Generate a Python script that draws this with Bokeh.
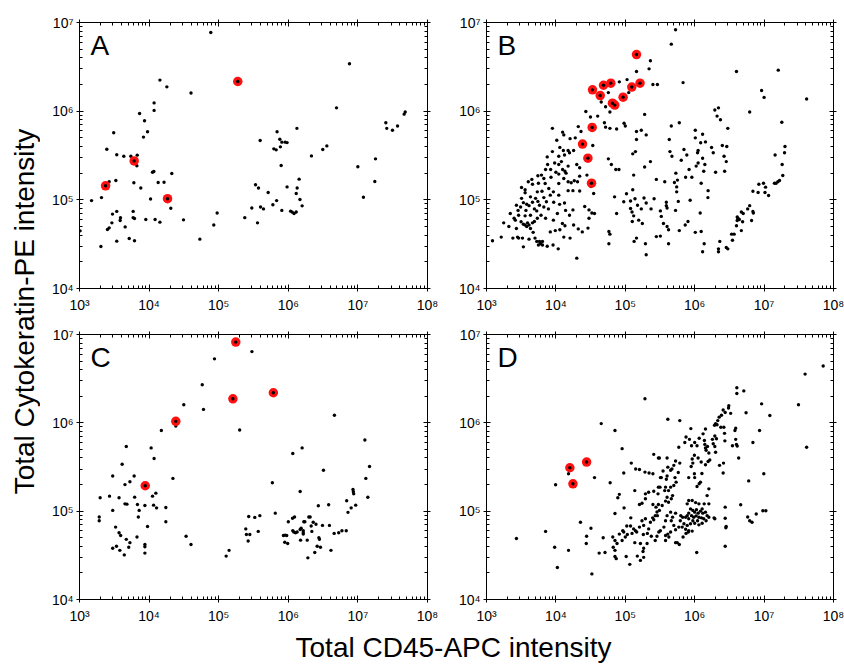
from bokeh.plotting import figure
from bokeh.models import (Range1d, LogAxis, FixedTicker, CustomJSTickFormatter,
                          Label, ColumnDataSource)
from bokeh.layouts import row, column
from bokeh.embed import file_html
from bokeh.resources import INLINE

FONT = "Liberation Sans"

# ---------------- data (CD45-APC, Cytokeratin-PE) ----------------
a_black = [
    (7.7e4, 7.7e6), (1.43e4, 2.24e6), (1.8e4, 1.88e6), (4.0e4, 1.6e6), (1.18e4, 1.24e6),
    (1.18e4, 1.02e6), (7.3e3, 9.4e5), (8.6e3, 7.8e5), (9.5e3, 5.85e5), (3.1e3, 5.7e5),
    (8.3e3, 5.1e5), (2.47e3, 3.72e5), (3.43e3, 3.22e5), (4.33e3, 3.1e5), (5.47e3, 3.1e5),
    (6.75e3, 3.19e5), (6.67e3, 2.42e5), (1.17e4, 2.09e5), (1.12e4, 2.05e5), (2.12e4, 1.98e5),
    (3.33e3, 1.65e5), (2.67e3, 1.6e5), (6.04e3, 1.56e5), (1.35e4, 1.57e5), (1.64e4, 1.58e5),
    (7.6e3, 1.36e5), (1.49e3, 9.8e4), (2.07e3, 1.06e5), (1.05e4, 1.02e5), (2.05e4, 8.05e4),
    (2.98e3, 6.9e4), (3.43e3, 7.4e4), (3.88e3, 6.27e4), (3.84e3, 5.85e4), (5.9e3, 7.4e4),
    (5.9e3, 6.3e4), (6.17e3, 6.15e4), (8.97e3, 6.0e4), (1.22e4, 6.0e4), (1.43e4, 5.6e4),
    (2.92e3, 5.5e4), (4.53e3, 4.95e4), (2.67e3, 4.83e4), (2.52e3, 4.62e4), (1.02e3, 4.47e4),
    (3.12e4, 5.95e4), (9.5e4, 7.1e4), (8.5e4, 5.2e4), (2.37e5, 6.3e4), (2.99e5, 8.1e4),
    (5.36e4, 3.6e4), (5.18e3, 3.66e4), (6.17e3, 3.45e4), (3.43e3, 3.42e4), (2.03e3, 2.98e4),
    (7.57e6, 3.42e6), (4.93e6, 1.09e6), (4.78e7, 9.8e5), (4.62e7, 9.25e5), (2.52e7, 7.4e5),
    (2.6e7, 6.4e5), (3.14e7, 6.1e5), (3.71e7, 6.8e5), (6.9e5, 5.85e5), (1.33e6, 6.4e5),
    (3.94e5, 4.67e5), (7.55e5, 4.83e5), (8.07e5, 4.47e5), (9.0e5, 4.47e5), (9.6e5, 4.42e5),
    (6.2e5, 3.76e5), (6.7e5, 3.66e5), (7.7e5, 3.96e5), (2.15e6, 3.13e5), (3.13e6, 3.7e5),
    (3.58e6, 4.06e5), (7.9e5, 2.44e5), (9.98e6, 2.36e5), (1.79e7, 2.9e5), (1.75e7, 1.61e5),
    (1.2e7, 1.07e5), (1.43e6, 1.71e5), (3.38e5, 1.48e5), (3.73e5, 1.36e5), (9.6e5, 1.4e5),
    (5.14e5, 1.21e5), (1.34e6, 1.36e5), (1.3e6, 1.18e5), (1.47e6, 1.01e5), (1.58e6, 8.55e4),
    (6.8e5, 9.8e4), (6.0e5, 8.8e4), (8.07e5, 7.6e4), (1.08e6, 7.45e4), (1.14e6, 7.26e4),
    (1.21e6, 7.0e4), (1.3e6, 7.3e4), (3.99e5, 8.3e4), (4.4e5, 7.9e4), (3.61e5, 5.5e4),
]
a_red = [(1.88e5, 2.16e6), (6.1e3, 2.75e5), (2.37e3, 1.44e5), (1.84e4, 1.03e5)]

b_black = [
    (2.3e5, 3.7e6), (2.2e5, 3.0e6), (1.45e5, 2.8e6), (1.06e5, 2.27e6), (8.2e4, 2.14e6),
    (2.5e5, 2.0e6), (2.9e5, 2.0e6), (5.7e4, 1.62e6), (1.12e5, 1.62e6), (4.5e4, 1.27e6),
    (5.2e4, 1.12e6), (6.0e4, 9.8e5), (2.7e4, 9.9e5), (3.15e4, 8.6e5), (4.0e4, 8.8e5),
    (5.0e4, 7.4e5), (5.2e4, 6.6e5), (6.0e4, 6.4e5), (9.6e4, 7.3e5), (1.0e5, 6.8e5),
    (1.9e5, 9.2e5), (7.5e4, 6.3e5), (8.9e3, 6.4e5), (2.1e4, 6.7e5), (2.3e4, 5.9e5),
    (1.7e5, 6.1e5), (2.0e5, 5.4e5), (1.45e5, 5.9e5), (1.45e5, 4.8e5), (1.25e4, 5.8e5),
    (1.3e4, 5.4e5), (1.6e4, 4.9e5), (1.03e4, 4.7e5), (1.14e4, 3.9e5), (1.9e4, 5.0e5),
    (3.4e4, 4.1e5), (1.28e5, 3.3e5), (1.4e5, 3.5e5), (5.7e4, 2.9e5), (6.3e4, 2.5e5),
    (7.3e4, 2.2e5), (8.1e4, 2.2e5), (1.9e5, 2.35e5), (2.3e5, 2.7e5), (1.32e5, 1.9e5),
    (2.8e5, 1.7e5), (8.9e3, 3.5e5), (7.5e3, 3.05e5), (1.28e4, 3.6e5), (1.5e4, 3.6e5),
    (1.57e4, 3.4e5), (1.33e4, 3.2e5), (2.0e4, 2.5e5), (2.2e4, 2.3e5), (1.2e4, 2.7e5),
    (1.1e4, 2.5e5), (7.6e3, 2.5e5), (7.1e3, 2.2e5), (9.6e3, 2.6e5), (1.25e4, 2.2e5),
    (1.35e4, 2.1e5), (1.4e4, 2.0e5), (1.0e4, 2.05e5), (1.1e4, 1.95e5), (6.2e3, 1.9e5),
    (5.5e3, 1.87e5), (8.5e3, 1.8e5), (6.7e3, 1.74e5), (4.5e3, 1.7e5), (4.0e3, 1.6e5),
    (3.2e3, 1.38e5), (3.6e3, 1.3e5), (3.6e3, 1.2e5), (4.6e3, 1.5e5), (5.6e3, 1.54e5),
    (7.0e3, 1.53e5), (1.3e4, 1.74e5), (1.5e4, 1.6e5), (1.66e4, 1.56e5), (1.84e4, 1.64e5),
    (2.05e4, 1.6e5), (2.2e4, 1.85e5), (2.8e4, 1.9e5), (1.1e4, 1.53e5), (7.9e3, 1.34e5),
    (9.2e3, 1.23e5), (1.1e4, 1.13e5), (6.3e3, 1.25e5), (5.4e3, 1.23e5), (1.5e4, 1.27e5),
    (1.76e4, 1.27e5), (2.2e4, 1.26e5), (3.5e4, 1.18e5), (3.2e4, 1.41e5), (7.0e4, 1.08e5),
    (1.04e5, 1.17e5), (1.28e5, 1.3e5), (1.38e5, 1.03e5), (1.86e5, 1.05e5), (2.0e5, 9.2e4),
    (2.6e5, 1.03e5), (9.5e4, 9.5e4), (1.19e5, 9.7e4), (1.5e5, 8.7e4), (1.7e5, 7.9e4),
    (2.35e5, 7.9e4), (3.2e5, 7.5e4), (1.19e5, 8.0e4), (1.25e5, 7.3e4), (1.32e5, 6.6e4),
    (7.5e4, 7.0e4), (1.26e5, 5.7e4), (1.56e5, 5.9e4), (3.3e5, 6.5e4), (1.76e5, 5.4e4),
    (3.0e4, 7.7e4), (3.3e4, 7.1e4), (3.6e4, 7.0e4), (3.0e4, 6.2e4), (2.6e4, 8.4e4),
    (1.33e4, 9.2e4), (1.13e4, 8.9e4), (1.38e4, 7.6e4), (1.76e4, 7.7e4), (9.3e3, 9.4e4),
    (7.3e3, 9.5e4), (6.7e3, 8.3e4), (5.5e3, 9.6e4), (5.8e3, 8.7e4), (4.6e3, 9.4e4),
    (4.1e3, 8.6e4), (3.8e3, 8.9e4), (3.4e3, 9.3e4), (2.7e3, 8.7e4), (3.1e3, 8.3e4),
    (2.85e3, 7.6e4), (3.7e3, 7.6e4), (4.9e3, 7.9e4), (5.3e3, 7.5e4), (7.8e3, 7.9e4),
    (6.1e3, 6.7e4), (4.3e3, 6.7e4), (3.6e3, 6.6e4), (2.5e3, 6.2e4), (2.6e3, 5.9e4),
    (1.77e3, 5.5e4), (3.15e3, 5.65e4), (3.4e3, 5.3e4), (3.9e3, 5.5e4), (4.1e3, 5.2e4),
    (4.6e3, 5.5e4), (4.9e3, 5.7e4), (3.6e3, 5.2e4), (3.8e3, 5.0e4), (4.3e3, 4.75e4),
    (4.7e3, 4.3e4), (2.7e3, 4.75e4), (9.2e3, 5.9e4), (1.14e4, 4.6e4), (9.8e3, 4.5e4),
    (8.3e3, 4.35e4), (1.35e4, 5.1e4), (1.3e4, 3.8e4), (1.6e4, 3.7e4), (2.1e4, 4.7e4),
    (2.4e4, 4.35e4), (2.9e4, 4.8e4), (2.4e3, 3.7e4), (2.8e3, 3.8e4), (2.9e3, 3.7e4),
    (3.3e3, 3.7e4), (4.1e3, 3.6e4), (5.0e3, 3.7e4), (5.3e3, 3.4e4), (5.8e3, 3.4e4),
    (6.0e3, 3.2e4), (6.4e3, 3.1e4), (5.6e3, 3.1e4), (6.4e3, 3.4e4), (3.4e3, 2.95e4),
    (7.5e3, 3.0e4), (9.1e3, 3.1e4), (1.08e4, 2.8e4), (1.63e3, 3.8e4), (1.22e3, 3.45e4),
    (2.0e4, 2.2e4), (5.8e4, 3.2e4), (5.8e4, 4.4e4), (6.0e4, 4.1e4), (1.45e5, 3.7e4),
    (1.34e5, 3.4e4), (1.95e5, 3.2e4), (2.0e5, 2.4e4), (2.8e5, 3.85e4), (3.2e5, 3.9e4),
    (3.2e3, 1.04e5), (4.3e3, 1.08e5), (5.1e3, 1.04e5), (6.7e3, 1.06e5), (8.3e3, 1.13e5),
    (7.1e3, 6.2e4), (5.4e3, 6.2e4), (2.9e3, 6.7e4), (2.2e3, 7.0e4), (2.1e3, 5.0e4),
    (1.57e4, 6.7e4), (1.05e4, 7.0e4), (1.24e4, 5.4e4), (1.8e4, 5.2e4), (8.4e3, 2.2e5),
    (1.1e4, 3.1e5), (1.8e4, 3.6e5), (1.5e4, 2.4e5),
    (5.3e5, 8.3e6), (4.6e5, 5.7e6), (6.8e5, 2.1e6), (4.0e6, 2.8e6), (1.6e7, 2.9e6),
    (9.2e6, 1.71e6), (1.0e7, 1.43e6), (4.1e7, 1.37e6), (1.95e6, 1.03e6), (2.2e6, 1.09e6),
    (2.1e6, 8.8e5), (2.35e6, 8.0e5), (6.2e6, 9.8e5), (1.8e7, 7.5e5), (3.0e6, 6.4e5),
    (4.6e5, 6.8e5), (6.0e5, 7.4e5), (4.3e5, 4.8e5), (1.02e6, 6.1e5), (1.3e6, 5.5e5),
    (1.02e6, 5.0e5), (1.22e6, 4.4e5), (1.43e6, 4.5e5), (4.4e5, 3.5e5), (4.7e5, 3.1e5),
    (7.0e5, 3.7e5), (7.7e5, 3.2e5), (6.4e5, 2.8e5), (1.12e6, 3.6e5), (1.1e6, 3.4e5),
    (1.3e6, 2.95e5), (1.12e6, 2.6e5), (1.4e6, 2.5e5), (1.05e6, 2.4e5), (1.35e6, 2.1e5),
    (1.75e6, 3.9e5), (1.85e6, 3.4e5), (2.5e6, 4.1e5), (2.9e6, 4.0e5), (2.65e6, 3.1e5),
    (2.85e6, 2.7e5), (2.7e6, 2.1e5), (2.0e6, 2.05e5), (8.3e5, 2.2e5), (7.4e5, 1.8e5),
    (9.1e5, 1.8e5), (5.35e5, 2.0e5), (5.65e5, 1.67e5), (5.1e5, 1.57e5), (5.5e5, 1.4e5),
    (5.5e5, 1.23e5), (5.8e5, 9.6e4), (3.9e5, 9.4e4), (3.9e5, 8.6e4), (4.0e5, 8.1e4),
    (5.3e5, 7.6e4), (8.6e5, 9.9e4), (1.24e6, 1.54e5), (1.56e6, 1.27e5), (1.55e6, 1.06e5),
    (1.2e6, 7.1e4), (3.7e5, 1.6e5), (3.55e5, 5.4e4), (4.0e5, 5.0e4), (4.2e5, 4.6e4),
    (4.2e5, 3.2e4), (6.0e5, 4.5e4), (7.3e5, 5.2e4), (8.0e5, 5.7e4), (1.02e6, 4.3e4),
    (1.24e6, 4.4e4), (1.37e6, 3.2e4), (1.3e6, 2.6e4), (2.3e6, 3.4e4), (2.2e6, 2.8e4),
    (2.2e6, 2.6e4), (2.85e6, 2.9e4), (3.0e6, 2.8e4), (3.5e6, 3.5e4), (3.4e6, 4.1e4),
    (3.7e6, 4.1e4), (4.0e6, 5.1e4), (4.7e6, 4.5e4), (4.1e6, 6.4e4), (4.2e6, 6.2e4),
    (4.4e6, 6.0e4), (4.1e6, 5.85e4), (4.9e6, 5.65e4), (4.7e6, 7.3e4), (5.0e6, 7.0e4),
    (5.8e6, 7.9e4), (6.2e6, 8.6e4), (6.9e6, 7.4e4), (6.6e6, 5.85e4), (7.0e6, 7.1e4),
    (6.9e6, 1.25e5), (8.4e6, 1.5e5), (9.8e6, 1.54e5), (8.2e6, 1.21e5), (1.03e7, 1.21e5),
    (1.05e7, 1.39e5), (1.16e7, 1.12e5), (1.41e7, 1.54e5), (1.49e7, 1.54e5), (1.58e7, 1.6e5),
    (1.67e7, 1.65e5), (1.86e7, 1.88e5), (1.82e7, 2.5e5), (1.44e7, 3.2e5), (1.97e7, 3.4e5),
    (2.0e7, 4.0e5),
]
b_red = [
    (1.45e5, 4.35e6), (3.37e4, 1.74e6), (4.85e4, 1.96e6), (6.18e4, 2.07e6), (4.35e4, 1.5e6),
    (6.53e4, 1.23e6), (7.06e4, 1.17e6), (9.3e4, 1.44e6), (1.24e5, 1.87e6), (1.63e5, 2.07e6),
    (3.33e4, 6.55e5), (2.42e4, 4.25e5), (2.89e4, 2.95e5), (3.26e4, 1.54e5),
]

c_black = [
    (8.7e4, 5.3e6), (3.0e5, 6.4e6), (5.8e4, 2.7e6), (3.15e4, 1.6e6), (6.05e4, 1.42e6),
    (2.42e4, 9.2e5), (1.5e4, 8.2e5), (2.0e5, 8.3e5), (4.7e3, 5.4e5), (1.07e4, 5.2e5),
    (1.18e4, 3.95e5), (4.1e3, 3.4e5), (2.2e4, 2.35e5), (3.0e3, 2.5e5), (6.1e3, 2.5e5),
    (5.3e3, 2.15e5), (4.5e3, 2.0e5), (1.98e3, 1.42e5), (2.7e3, 1.48e5), (3.7e3, 1.42e5),
    (6.2e3, 1.44e5), (1.12e4, 1.48e5), (1.25e4, 1.6e5), (4.5e3, 1.21e5), (4.8e3, 1.2e5),
    (6.8e3, 1.19e5), (8.7e3, 1.16e5), (1.16e4, 1.17e5), (1.28e4, 1.09e5), (1.74e4, 1.1e5),
    (3.0e3, 1.02e5), (7.2e3, 1.02e5), (7.0e3, 8.6e4), (1.92e3, 8.6e4), (1.92e3, 7.8e4),
    (1.74e4, 7.6e4), (9.5e3, 6.7e4), (3.3e3, 6.6e4), (3.7e3, 5.7e4), (3.9e3, 5.3e4),
    (6.7e3, 5.1e4), (4.7e3, 4.8e4), (5.3e3, 4.4e4), (5.1e3, 3.9e4), (3.0e3, 3.8e4),
    (3.4e3, 4.0e4), (3.8e3, 3.6e4), (4.4e3, 3.2e4), (8.7e3, 4.2e4), (8.7e3, 3.95e4),
    (8.7e3, 3.35e4), (3.4e4, 5.2e4), (4.0e4, 4.2e4), (1.41e5, 3.6e4), (1.28e5, 3.1e4),
    (2.7e5, 8.7e4), (3.3e5, 8.5e4), (2.45e5, 6.3e4), (2.8e5, 5.45e4), (2.5e5, 5.45e4),
    (2.65e5, 4.6e4),
    (1.16e6, 4.5e5), (1.58e6, 5.2e5), (4.6e6, 1.22e6), (1.26e7, 6.4e5), (1.47e7, 3.2e5),
    (1.3e7, 2.35e5), (1.39e7, 1.44e5), (3.2e6, 2.9e5), (5.9e5, 2.1e5), (1.48e6, 1.67e5),
    (6.5e5, 9.5e4), (2.7e6, 1.15e5), (3.8e6, 1.18e5), (6.9e6, 1.31e5), (7.2e6, 9.7e4),
    (8.0e6, 1.09e5), (8.5e6, 1.76e5), (8.6e6, 1.66e5), (8.7e6, 1.57e5), (9.3e6, 1.17e5),
    (3.9e5, 8.9e4), (3.7e5, 5.9e4), (1.0e6, 7.6e4), (1.15e6, 8.3e4), (1.23e6, 8.6e4),
    (1.67e6, 7.6e4), (1.73e6, 7.6e4), (1.97e6, 8.6e4), (2.06e6, 8.6e4), (2.28e6, 7.5e4),
    (2.5e6, 7.1e4), (3.1e6, 6.9e4), (3.9e6, 6.9e4), (1.16e6, 6.0e4), (1.2e6, 5.8e4),
    (1.27e6, 5.7e4), (1.34e6, 5.8e4), (1.48e6, 6.2e4), (1.53e6, 6.4e4), (1.64e6, 5.7e4),
    (1.64e6, 6.0e4), (1.64e6, 5.5e4), (2.13e6, 6.8e4), (2.18e6, 5.9e4), (8.5e5, 5.3e4),
    (9.0e5, 5.35e4), (9.5e5, 5.3e4), (8.9e5, 4.45e4), (9.8e5, 4.3e4), (1.5e6, 4.7e4),
    (1.87e6, 4.7e4), (2.75e6, 5.0e4), (2.8e6, 4.8e4), (2.6e6, 4.0e4), (2.9e6, 3.9e4),
    (1.91e6, 2.96e4), (2.4e6, 3.4e4), (4.1e6, 3.6e4), (4.56e6, 5.6e4), (5.3e6, 5.7e4),
    (5.9e6, 6.0e4), (6.8e6, 6.0e4),
]
c_red = [(1.76e5, 8.2e6), (1.6e5, 1.87e6), (2.42e4, 1.04e6), (8.8e3, 1.94e5), (6.1e5, 2.19e6)]

d_black = [
    (1.92e5, 1.87e6), (4.5e4, 9.8e5), (7.1e4, 8.2e5), (9.0e4, 5.1e5), (2.57e5, 4.4e5),
    (3.0e5, 4.0e5), (1.22e5, 3.5e5), (1.41e5, 3.0e5), (1.6e5, 2.96e5), (1.92e5, 2.77e5),
    (2.2e5, 2.7e5), (2.5e5, 2.65e5), (9.5e4, 2.7e5), (3.6e4, 2.4e5), (1.52e4, 2.65e5),
    (9.9e3, 1.99e5), (6.05e4, 2.1e5), (1.37e5, 1.71e5), (8.2e4, 1.55e5), (7.8e4, 1.42e5),
    (9.6e4, 1.09e5), (7.1e4, 9.4e4), (1.95e5, 1.57e5), (2.17e5, 1.64e5), (2.57e5, 1.68e5),
    (2.96e5, 1.57e5), (3.2e5, 2.4e5), (3.16e5, 1.87e5), (1.74e5, 1.23e5), (1.6e5, 1.19e5),
    (1.95e5, 1.38e5), (2.5e5, 1.19e5), (2.77e5, 1.11e5), (2.86e5, 9.8e4), (2.7e5, 8.9e4),
    (2.48e5, 8.4e4), (1.2e5, 8.4e4), (1.05e5, 6.8e4), (1.19e5, 6.8e4), (9.2e4, 6.0e4),
    (9.5e4, 5.8e4), (8.2e4, 5.5e4), (1.32e5, 6.3e4), (1.4e5, 6.0e4), (1.6e5, 6.6e4),
    (1.84e5, 6.9e4), (2.17e5, 6.3e4), (1.74e5, 7.8e4), (1.95e5, 8.2e4), (2.3e5, 7.5e4),
    (2.57e5, 8.0e4), (1.07e5, 5.45e4), (1.25e5, 5.6e4), (1.46e5, 5.8e4), (1.82e5, 5.45e4),
    (2.08e5, 5.6e4), (2.37e5, 5.2e4), (2.7e5, 4.65e4), (2.86e5, 5.2e4), (1.37e5, 4.4e4),
    (1.65e5, 4.3e4), (2.06e5, 4.3e4), (6.6e4, 5.1e4), (7.1e4, 4.65e4), (7.6e4, 4.3e4),
    (9.0e4, 4.65e4), (1.0e5, 5.1e4), (6.7e4, 3.9e4), (7.1e4, 3.6e4), (7.4e4, 2.9e4),
    (7.1e4, 3.07e4), (1.03e5, 3.07e4), (1.16e5, 2.5e4), (1.49e5, 3.1e4), (1.65e5, 2.77e4),
    (1.84e5, 3.0e4), (1.8e5, 3.5e4), (1.84e5, 3.8e4), (4.8e4, 5.0e4), (4.2e4, 3.35e4),
    (5.1e4, 3.4e4), (3.2e4, 6.4e4), (2.77e4, 5.2e4), (2.74e4, 4.3e4), (2.26e4, 7.5e4),
    (7.1e3, 5.9e4), (9.6e3, 3.9e4), (1.05e4, 2.3e4), (1.52e4, 3.6e4), (2.7e3, 4.9e4),
    (3.3e4, 1.95e4),
    (7.1e7, 4.4e6), (3.9e7, 3.56e6), (3.13e7, 1.6e6), (4.1e7, 5.3e5), (1.21e7, 1.21e6),
    (9.2e6, 1.64e6), (8.6e6, 8.2e5), (6.9e6, 6.0e5), (9.9e6, 2.65e5), (6.0e6, 2.2e5),
    (4.6e6, 1.18e5), (4.05e6, 2.5e6), (4.05e6, 2.15e6), (5.1e6, 2.3e6), (5.5e6, 1.3e6),
    (3.1e6, 1.56e6), (3.07e6, 1.47e6), (3.3e6, 1.28e6), (2.75e6, 1.31e6), (2.57e6, 1.4e6),
    (2.43e6, 1.22e6), (2.25e6, 1.16e6), (2.15e6, 1.06e6), (2.0e6, 9.8e5), (1.93e6, 9.4e5),
    (2.1e6, 9.5e5), (2.38e6, 8.9e5), (2.63e6, 8.9e5), (2.69e6, 7.6e5), (2.72e6, 6.25e5),
    (3.9e6, 8.7e5), (3.8e6, 8.2e5), (3.9e6, 6.5e5), (4.0e6, 5.7e5), (3.5e6, 5.5e5),
    (4.1e6, 5.45e5), (4.3e6, 4.0e5), (2.28e6, 3.3e5), (2.6e6, 3.5e5), (2.57e6, 2.7e5),
    (2.75e6, 1.11e5), (2.75e6, 8.3e4), (2.84e6, 6.7e4), (2.81e6, 6.5e4), (2.75e6, 4.0e4),
    (5.8e6, 8.6e4), (6.2e6, 7.8e4), (6.7e6, 7.5e4), (7.7e6, 9.3e4), (9.6e6, 1.01e5),
    (1.06e7, 1.01e5), (4.1e5, 1.1e6), (6.1e5, 1.06e6), (8.8e5, 8.6e5), (1.43e6, 8.5e5),
    (1.32e6, 7.5e5), (1.16e6, 6.7e5), (1.08e6, 5.5e5), (1.0e6, 6.0e5), (9.0e5, 5.5e5),
    (8.4e5, 6.5e5), (7.5e5, 6.9e5), (7.2e5, 6.0e5), (1.38e6, 6.3e5), (1.4e6, 5.7e5),
    (1.43e6, 5.2e5), (1.46e6, 4.9e5), (1.6e6, 4.55e5), (1.53e6, 5.4e5), (1.8e6, 6.5e5),
    (1.95e6, 7.1e5), (1.85e6, 5.8e5), (2.06e6, 6.6e5), (2.0e6, 4.65e5), (1.95e6, 5.4e5),
    (1.65e6, 3.8e5), (1.56e6, 3.65e5), (1.43e6, 3.35e5), (1.24e6, 3.6e5), (1.12e6, 4.0e5),
    (9.9e5, 4.3e5), (9.2e5, 3.9e5), (9.4e5, 3.5e5), (8.9e5, 3.2e5), (5.9e5, 5.3e5),
    (6.1e5, 3.5e5), (5.3e5, 3.7e5), (5.0e5, 3.3e5), (4.7e5, 3.0e5), (5.8e5, 2.74e5),
    (4.5e5, 2.9e5), (4.1e5, 3.15e5), (4.0e5, 2.5e5), (3.9e5, 2.3e5), (3.5e5, 2.85e5),
    (3.1e5, 4.0e5), (3.3e5, 2.4e5), (3.0e5, 1.87e5), (4.0e5, 4.0e5), (8.2e5, 2.4e5),
    (9.9e5, 2.65e5), (1.0e6, 2.4e5), (1.27e6, 2.67e5), (1.16e6, 2.04e5), (1.08e6, 1.9e5),
    (1.21e6, 2.13e5), (5.2e5, 2.4e5), (5.4e5, 2.13e5), (5.0e5, 1.95e5), (4.5e5, 1.87e5),
    (4.2e5, 1.71e5), (3.8e5, 1.87e5), (3.7e5, 1.71e5), (4.0e5, 1.44e5), (4.6e5, 1.38e5),
    (4.8e5, 1.5e5), (4.2e5, 1.26e5), (3.8e5, 1.3e5), (3.4e5, 1.16e5), (3.0e5, 1.19e5),
    (3.1e5, 1.02e5), (2.9e5, 8.9e4), (1.6e6, 1.79e5), (1.51e6, 1.5e5), (1.6e6, 1.21e5),
    (1.37e6, 1.21e5), (1.28e6, 1.06e5), (1.15e6, 1.21e5), (1.03e6, 1.25e5), (9.2e5, 1.32e5),
    (8.2e5, 1.32e5), (7.8e5, 1.21e5),
    (8.7e5, 1.06e5), (9.4e5, 1.02e5), (1.0e6, 9.75e4), (1.06e6, 1.04e5), (1.12e6, 9.5e4),
    (1.21e6, 1.0e5), (1.31e6, 9.5e4), (1.43e6, 9.75e4), (1.51e6, 8.9e4), (8.2e5, 9.5e4),
    (7.8e5, 8.9e4), (9.0e5, 8.9e4), (9.7e5, 8.55e4), (1.05e6, 8.85e4), (1.15e6, 8.55e4),
    (1.25e6, 8.4e4), (1.35e6, 8.2e4), (1.46e6, 7.8e4), (1.6e6, 8.55e4), (1.1e6, 7.8e4),
    (9.4e5, 7.8e4), (8.2e5, 8.2e4), (7.4e5, 8.55e4), (6.7e5, 8.55e4), (6.3e5, 8.9e4),
    (1.0e6, 7.3e4), (1.15e6, 7.0e4), (1.28e6, 7.3e4), (8.7e5, 7.2e4), (7.8e5, 6.9e4),
    (7.0e5, 7.2e4), (6.2e5, 7.8e4), (6.6e5, 6.6e4), (7.4e5, 6.25e4), (8.2e5, 6.0e4),
    (5.9e5, 6.6e4), (5.3e5, 6.15e4), (5.0e5, 6.9e4), (4.6e5, 7.8e4), (4.8e5, 8.55e4),
    (5.3e5, 9.5e4), (4.5e5, 9.75e4), (4.0e5, 8.9e4), (3.8e5, 7.8e4), (3.6e5, 6.6e4),
    (3.2e5, 6.0e4), (3.04e5, 5.8e4), (3.8e5, 5.3e4), (4.1e5, 5.5e4), (4.5e5, 5.8e4),
    (5.3e5, 4.4e4), (5.6e5, 4.4e4), (6.0e5, 4.2e4), (6.8e5, 5.1e4), (7.5e5, 5.6e4),
    (8.1e5, 5.8e4), (9.2e5, 5.95e4), (1.07e6, 3.4e4), (1.9e6, 8.4e4), (1.95e6, 8.2e4),
    (3.8e5, 4.65e4), (4.24e5, 5.1e4),
]
d_red = [(1.59e4, 3.1e5), (2.77e4, 3.6e5), (1.76e4, 2.04e5)]

panel_letters = ["A", "B", "C", "D"]
x_label_text = "Total CD45-APC intensity"
y_label_text = "Total Cytokeratin-PE intensity"

# ---------------- ticks ----------------
x_major = [10 ** e for e in range(3, 9)]
x_minor = [m * 10 ** e for e in range(3, 8) for m in range(2, 10)]
y_major = [10 ** e for e in range(4, 8)]
y_minor = [m * 10 ** e for e in range(4, 7) for m in range(2, 10)]

SUP_CODE = """
const s = ["\u2070","\u00b9","\u00b2","\u00b3","\u2074","\u2075","\u2076","\u2077","\u2078","\u2079"];
const e = Math.round(Math.log10(tick));
return "10" + s[e];
"""


def style_axis(ax, ticks, minor, labels):
    ax.ticker = FixedTicker(ticks=ticks, minor_ticks=minor)
    ax.major_tick_in = 4
    ax.major_tick_out = 3
    ax.minor_tick_in = 3
    ax.minor_tick_out = 0
    ax.axis_line_color = "black"
    ax.major_tick_line_color = "black"
    ax.minor_tick_line_color = "black"
    ax.axis_line_width = 1
    if labels:
        ax.formatter = CustomJSTickFormatter(code=SUP_CODE)
        ax.major_label_text_font = FONT
        ax.major_label_text_font_size = "14px"
        ax.major_label_text_color = "black"
    else:
        ax.formatter = CustomJSTickFormatter(code="return '';")
        ax.major_label_text_font_size = "0px"
        ax.major_label_standoff = 0


def make_panel(letter, black, red, fw, fh, bl, br, bt, bb):
    p = figure(x_axis_type="log", y_axis_type="log",
               x_range=Range1d(1e3, 1e8), y_range=Range1d(1e4, 1e7),
               frame_width=fw, frame_height=fh,
               min_border_left=bl, min_border_right=br,
               min_border_top=bt, min_border_bottom=bb,
               toolbar_location=None, output_backend="svg")
    p.grid.visible = False
    p.outline_line_color = "black"
    style_axis(p.xaxis[0], x_major, x_minor, True)
    style_axis(p.yaxis[0], y_major, y_minor, True)
    p.xaxis[0].major_label_standoff = 5
    p.yaxis[0].major_label_standoff = 3
    top = LogAxis()
    style_axis(top, x_major, x_minor, False)
    p.add_layout(top, "above")
    right = LogAxis()
    style_axis(right, y_major, y_minor, False)
    p.add_layout(right, "right")

    src = ColumnDataSource(dict(x=[v[0] for v in black], y=[v[1] for v in black]))
    p.scatter("x", "y", source=src, size=3.4, color="black", line_color=None)
    rsrc = ColumnDataSource(dict(x=[v[0] for v in red], y=[v[1] for v in red]))
    p.scatter("x", "y", source=rsrc, size=9.5, fill_color="#ff1010", line_color=None)
    p.scatter("x", "y", source=rsrc, size=3.4, color="black", line_color=None)

    p.add_layout(Label(x=11, y=fh - 23, x_units="screen", y_units="screen",
                       text=letter, text_font=FONT, text_font_size="28px",
                       text_color="black", text_baseline="alphabetic"))
    return p


pA = make_panel(panel_letters[0], a_black, a_red, 348, 266, 39, 20, 22, 28)
pB = make_panel(panel_letters[1], b_black, b_red, 347, 266, 39, 11, 22, 28)
pC = make_panel(panel_letters[2], c_black, c_red, 348, 265, 39, 20, 18, 26)
pD = make_panel(panel_letters[3], d_black, d_red, 347, 265, 39, 11, 18, 26)

ylab = figure(width=40, height=625, toolbar_location=None, output_backend="svg",
              min_border=0, x_range=Range1d(0, 1), y_range=Range1d(0, 1),
              x_axis_location=None, y_axis_location=None)
ylab.grid.visible = False
ylab.outline_line_color = None
ylab.add_layout(Label(x=24, y=314, x_units="screen", y_units="screen",
                      text=y_label_text, angle=90, angle_units="deg",
                      text_align="center", text_baseline="alphabetic",
                      text_font=FONT, text_font_size="28px", text_color="black"))

xlab = figure(width=844, height=40, toolbar_location=None, output_backend="svg",
              min_border=0, x_range=Range1d(0, 1), y_range=Range1d(0, 1),
              x_axis_location=None, y_axis_location=None)
xlab.grid.visible = False
xlab.outline_line_color = None
xlab.add_layout(Label(x=453, y=19, x_units="screen", y_units="screen",
                      text=x_label_text, text_align="center", text_baseline="alphabetic",
                      text_font=FONT, text_font_size="28px", text_color="black"))

grid = column(row(pA, pB), row(pC, pD))
layout = column(row(ylab, grid), xlab)

open("out.html", "w").write(file_html(layout, INLINE))
